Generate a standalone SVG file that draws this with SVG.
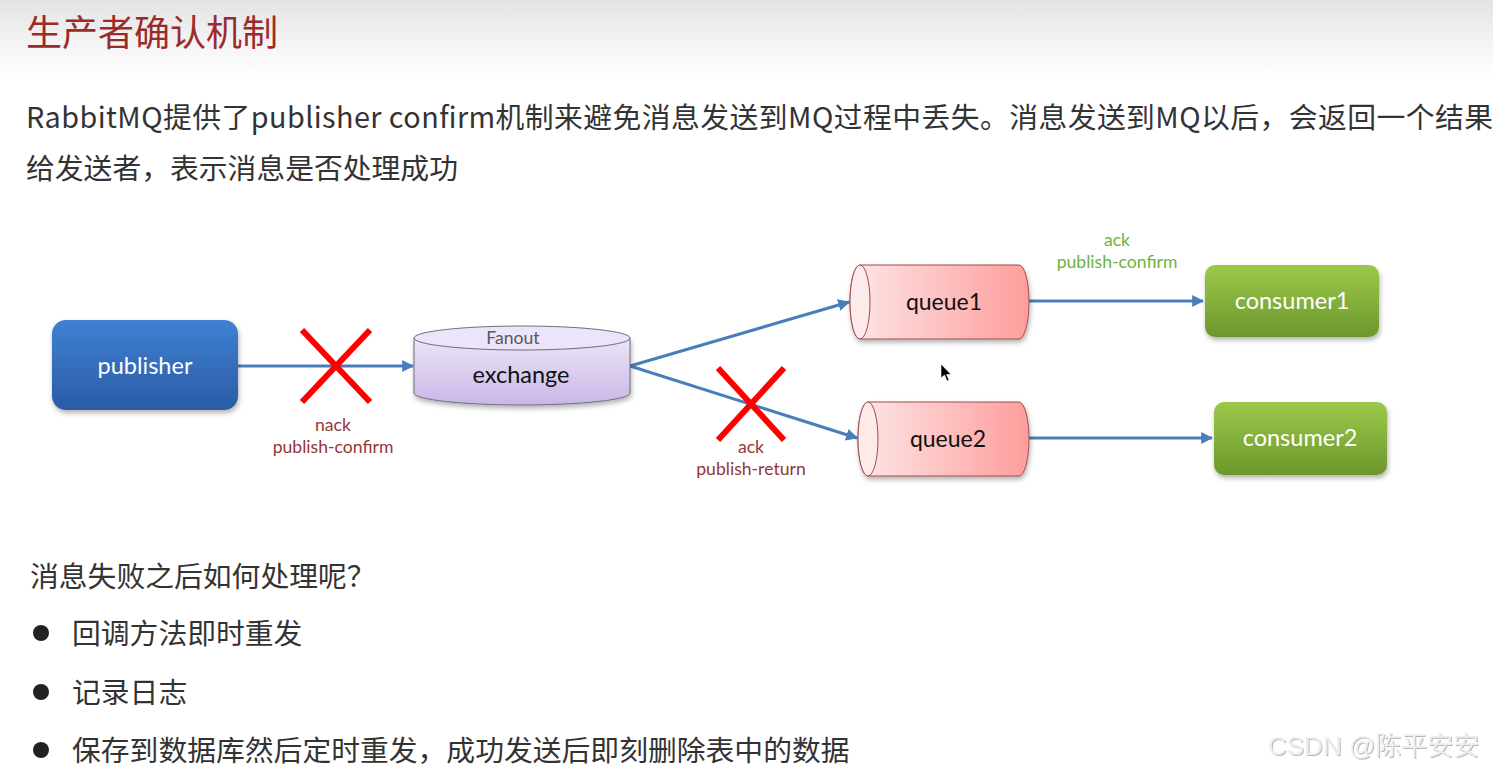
<svg xmlns="http://www.w3.org/2000/svg" width="1493" height="772" viewBox="0 0 1493 772">
<defs>
<linearGradient id="hdr" x1="0" y1="0" x2="0" y2="1"><stop offset="0" stop-color="#e4e4e4"/><stop offset="1" stop-color="#ffffff"/></linearGradient>
<linearGradient id="blue" x1="0" y1="0" x2="0" y2="1"><stop offset="0" stop-color="#3f80d2"/><stop offset="1" stop-color="#2a5ca6"/></linearGradient>
<linearGradient id="green" x1="0" y1="0" x2="0" y2="1"><stop offset="0" stop-color="#9cc94b"/><stop offset="1" stop-color="#6c972c"/></linearGradient>
<linearGradient id="lav" x1="0" y1="0" x2="0" y2="1"><stop offset="0" stop-color="#ece4f8"/><stop offset="1" stop-color="#c9b7e6"/></linearGradient>
<linearGradient id="pink" x1="0" y1="0" x2="1" y2="0"><stop offset="0" stop-color="#fde6e6"/><stop offset="1" stop-color="#ff9d9d"/></linearGradient>
<filter id="sh" x="-10%" y="-10%" width="130%" height="140%"><feDropShadow dx="1" dy="3" stdDeviation="2.5" flood-color="#000" flood-opacity="0.3"/></filter>
<filter id="wm" x="-5%" y="-20%" width="110%" height="150%"><feDropShadow dx="1" dy="1" stdDeviation="0.6" flood-color="#888" flood-opacity="0.6"/></filter>
<marker id="arr" viewBox="0 0 10 10" refX="9" refY="5" markerWidth="4" markerHeight="4" orient="auto" markerUnits="strokeWidth"><path d="M0,0 L10,5 L0,10 z" fill="#4a7ebb"/></marker>
</defs>
<style>
.cjk{font-family:"Noto Sans CJK SC","Noto Sans",sans-serif}
.lbl{font-family:Lato,"Open Sans",sans-serif;text-anchor:middle}
.wt{fill:#ffffff;font-size:23.5px}
.bk{fill:#111111;font-size:23.5px}
.red{fill:#953735;font-size:17.6px}
.grn{fill:#6bb43b;font-size:17.6px}
.con{fill:none;stroke:#4a7ebb;stroke-width:3;marker-end:url(#arr)}
.x{stroke:#ff0000;stroke-width:6;stroke-linecap:butt}
.body{fill:#333333;font-size:28.8px}
.bot{fill:#333333;font-size:28.8px}
</style>
<rect x="0" y="0" width="1493" height="772" fill="#ffffff"/>
<rect x="0" y="0" width="1493" height="75" fill="url(#hdr)"/>
<text x="26" y="46" class="cjk" font-size="36" fill="#9b2b2b">生产者确认机制</text>
<text x="26" y="128" class="cjk body" textLength="1467" lengthAdjust="spacing">RabbitMQ提供了publisher confirm机制来避免消息发送到MQ过程中丢失。消息发送到MQ以后，会返回一个结果</text>
<text x="26" y="179" class="cjk body">给发送者，表示消息是否处理成功</text>

<g id="connectors">
<line class="con" x1="238" y1="366" x2="413" y2="366"/>
<line class="con" x1="630" y1="366" x2="849" y2="302"/>
<line class="con" x1="630" y1="366" x2="857" y2="438"/>
<line class="con" x1="1029" y1="301" x2="1203" y2="301"/>
<line class="con" x1="1029" y1="438" x2="1212" y2="438"/>
<line class="x" x1="302" y1="330" x2="370" y2="402"/>
<line class="x" x1="370" y1="330" x2="302" y2="402"/>
<line class="x" x1="718" y1="368" x2="784" y2="440"/>
<line class="x" x1="784" y1="368" x2="718" y2="440"/>
<text x="333" y="431" class="lbl red">nack</text>
<text x="333" y="453" class="lbl red">publish-confirm</text>
<text x="751" y="453" class="lbl red">ack</text>
<text x="751" y="475" class="lbl red">publish-return</text>
<text x="1117" y="246" class="lbl grn">ack</text>
<text x="1117" y="268" class="lbl grn">publish-confirm</text>
</g>

<g id="publisher">
<rect x="52" y="320" width="186" height="90" rx="14" fill="url(#blue)" filter="url(#sh)"/>
<text x="145" y="374" class="lbl wt">publisher</text>
</g>

<g id="exchange">
<path d="M414,338 L414,393 A108,12 0 0 0 630,393 L630,338 Z" fill="url(#lav)" stroke="#6d6d7d" stroke-width="1" filter="url(#sh)"/>
<ellipse cx="522" cy="338" rx="108" ry="12" fill="#ece4f8" stroke="#6d6d7d" stroke-width="1"/>
<text x="513" y="344" class="lbl" font-size="17.6" fill="#595959">Fanout</text>
<text x="521" y="383" class="lbl bk">exchange</text>
</g>

<g id="queue1">
<path d="M860,265 L1019,265 A10,37 0 0 1 1019,339 L860,339 A10,37 0 0 1 860,265 Z" fill="url(#pink)" stroke="#a34a4a" stroke-width="1" filter="url(#sh)"/>
<ellipse cx="860" cy="302" rx="10" ry="37" fill="#fdeaea" stroke="#a34a4a" stroke-width="1"/>
<text x="944" y="310" class="lbl" font-size="23" fill="#111">queue1</text>
</g>

<g id="queue2">
<path d="M868,402 L1019,402 A10,37 0 0 1 1019,476 L868,476 A10,37 0 0 1 868,402 Z" fill="url(#pink)" stroke="#a34a4a" stroke-width="1" filter="url(#sh)"/>
<ellipse cx="868" cy="439" rx="10" ry="37" fill="#fdeaea" stroke="#a34a4a" stroke-width="1"/>
<text x="948" y="447" class="lbl" font-size="23" fill="#111">queue2</text>
</g>

<g id="consumer1">
<rect x="1205" y="265" width="174" height="72" rx="10" fill="url(#green)" filter="url(#sh)"/>
<text x="1292" y="309" class="lbl wt" font-size="21">consumer1</text>
</g>

<g id="consumer2">
<rect x="1214" y="402" width="173" height="73" rx="10" fill="url(#green)" filter="url(#sh)"/>
<text x="1300" y="446" class="lbl wt" font-size="21">consumer2</text>
</g>

<path d="M941,364 L941,378 L944.5,375 L947,381 L949,380 L946.5,374.5 L951,374.5 Z" fill="#000" stroke="#fff" stroke-width="0.6"/>

<text x="30" y="587" class="cjk bot">消息失败之后如何处理呢？</text>
<circle cx="41" cy="633" r="8" fill="#222"/>
<circle cx="41" cy="692" r="8" fill="#222"/>
<circle cx="41" cy="750" r="8" fill="#222"/>
<text x="72" y="644" class="cjk bot">回调方法即时重发</text>
<text x="72" y="703" class="cjk bot">记录日志</text>
<text x="72" y="761" class="cjk bot">保存到数据库然后定时重发，成功发送后即刻删除表中的数据</text>
<text x="1268" y="755" font-family="'Liberation Sans','Noto Sans CJK SC',sans-serif" font-size="26" fill="#eeeeee" filter="url(#wm)">CSDN @陈平安安</text>
</svg>
